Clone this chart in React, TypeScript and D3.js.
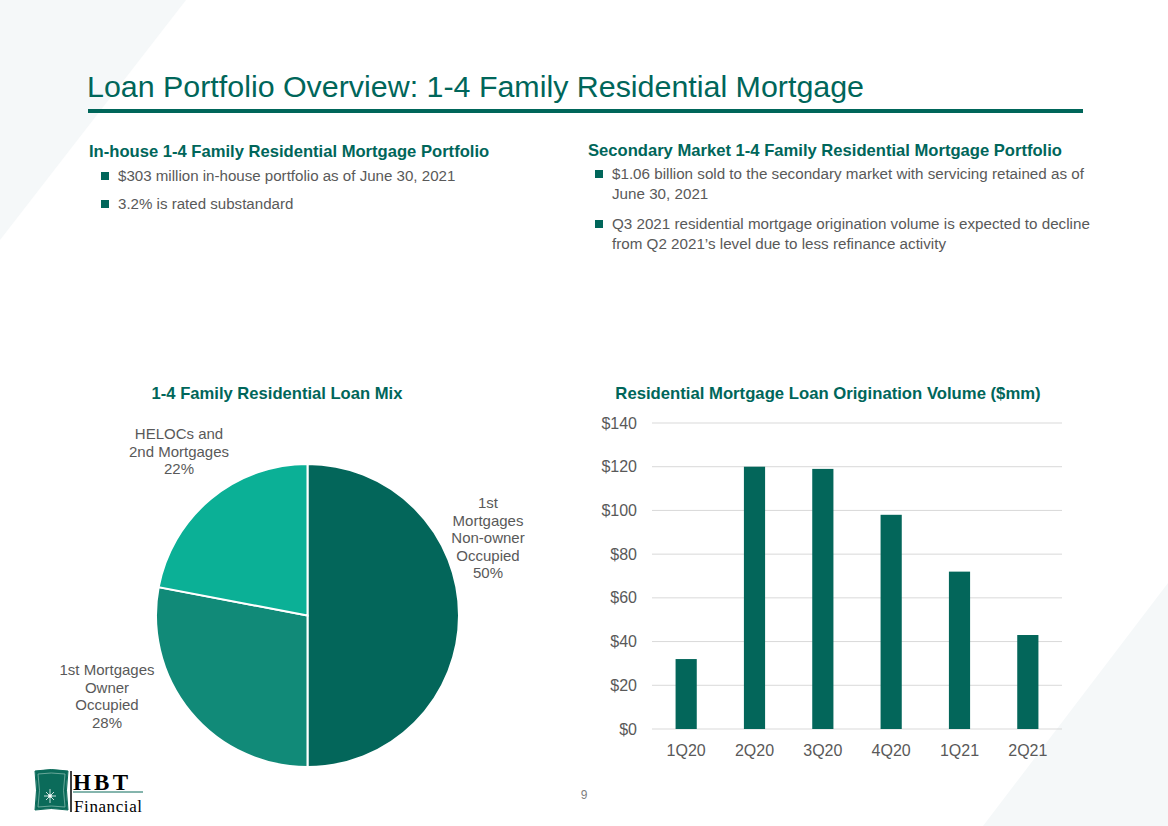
import React from "react";
import * as d3 from "d3";

const W = 1168;
const H = 826;

const GREEN = "#00665A";
const GRAY = "#595959";
const FONT = "'Liberation Sans', Arial, sans-serif";

// ---- Data ----
const pieLabels = [
  ["1st", "Mortgages", "Non-owner", "Occupied", "50%"],
  ["1st Mortgages", "Owner", "Occupied", "28%"],
  ["HELOCs and", "2nd Mortgages", "22%"],
];
const pieValues = [50, 28, 22];
const pieColors = ["#03665A", "#118A78", "#0BB096"];

const barCategories = ["1Q20", "2Q20", "3Q20", "4Q20", "1Q21", "2Q21"];
const barValues = [32, 120, 119, 98, 72, 43];
const yTicks = [0, 20, 40, 60, 80, 100, 120, 140];

const leftBullets = [
  ["$303 million in-house portfolio as of June 30, 2021"],
  ["3.2% is rated substandard"],
];
const rightBullets = [
  ["$1.06 billion sold to the secondary market with servicing retained as of", "June 30, 2021"],
  ["Q3 2021 residential mortgage origination volume is expected to decline", "from Q2 2021\u2019s level due to less refinance activity"],
];

function Bullets({ x, y, items, gap, lineH, fs }: { x: number; y: number; items: string[][]; gap: number; lineH: number; fs: number }) {
  let cy = y;
  const out: React.ReactNode[] = [];
  items.forEach((lines, i) => {
    out.push(<rect key={"b" + i} x={x} y={cy - 9} width={8} height={8} fill={GREEN} />);
    lines.forEach((l, j) => {
      out.push(
        <text key={"t" + i + "_" + j} x={x + 17} y={cy + j * lineH} fontSize={fs} fill={GRAY} fontFamily={FONT}>
          {l}
        </text>
      );
    });
    cy += (lines.length - 1) * lineH + gap;
  });
  return <g>{out}</g>;
}

export default function App() {
  // Pie
  const cx = 307.5, cy = 615.5, r = 151.5;
  const pie = d3.pie<number>().sort(null).value((d) => d)(pieValues);
  const arc = d3.arc<d3.PieArcDatum<number>>().innerRadius(0).outerRadius(r);
  const labelPos = [
    { x: 488, y: 508 },
    { x: 107, y: 675 },
    { x: 179, y: 439 },
  ];

  // Bars
  const x0 = 652, x1 = 1062, yTop = 423, yBot = 729;
  const xs = d3.scaleBand().domain(barCategories).range([x0, x1]).paddingInner(0.69).paddingOuter(0.345);
  const ys = d3.scaleLinear().domain([0, 140]).range([yBot, yTop]);

  return (
    <div style={{ position: "absolute", left: 0, top: 0, width: W, height: H }}>
      <svg width={W} height={H} style={{ display: "block" }}>
        <rect width={W} height={H} fill="#fff" />
        <polygon points="0,0 186,0 0,240" fill="#F5F8F9" />
        <polygon points="1168,583 1168,826 983,826" fill="#F5F8F9" />

        {/* Title */}
        <text x={87} y={97} fontSize={30.4} fill={GREEN} fontFamily={FONT}>
          Loan Portfolio Overview: 1-4 Family Residential Mortgage
        </text>
        <rect x={88} y={109} width={995} height={4} fill={GREEN} />

        {/* Left section */}
        <text x={89} y={157} fontSize={16.6} fontWeight="bold" fill={GREEN} fontFamily={FONT}>
          In-house 1-4 Family Residential Mortgage Portfolio
        </text>
        <Bullets x={101} y={181} items={leftBullets} gap={28} lineH={20} fs={15.1} />

        {/* Right section */}
        <text x={588} y={156} fontSize={16.6} fontWeight="bold" fill={GREEN} fontFamily={FONT}>
          Secondary Market 1-4 Family Residential Mortgage Portfolio
        </text>
        <Bullets x={595} y={179} items={rightBullets} gap={30} lineH={20} fs={15.2} />

        {/* Pie chart */}
        <text x={277} y={399} fontSize={16.6} fontWeight="bold" fill={GREEN} fontFamily={FONT} textAnchor="middle">
          1-4 Family Residential Loan Mix
        </text>
        <g transform={`translate(${cx},${cy})`}>
          {pie.map((p, i) => (
            <path key={i} d={arc(p) || ""} fill={pieColors[i]} stroke="#fff" strokeWidth={2} />
          ))}
        </g>
        {pieLabels.map((lines, i) => (
          <text key={i} fontSize={15} fill={GRAY} fontFamily={FONT} textAnchor="middle">
            {lines.map((l, j) => (
              <tspan key={j} x={labelPos[i].x} y={labelPos[i].y + j * 17.5}>
                {l}
              </tspan>
            ))}
          </text>
        ))}

        {/* Bar chart */}
        <text x={828} y={399} fontSize={16.7} fontWeight="bold" fill={GREEN} fontFamily={FONT} textAnchor="middle">
          Residential Mortgage Loan Origination Volume ($mm)
        </text>
        {yTicks.map((t) => (
          <g key={t}>
            <line x1={x0} x2={x1} y1={ys(t)} y2={ys(t)} stroke="#D9D9D9" strokeWidth={1} />
            <text x={637} y={ys(t) + 5.5} fontSize={16} fill={GRAY} fontFamily={FONT} textAnchor="end">
              ${t}
            </text>
          </g>
        ))}
        {barCategories.map((c, i) => (
          <g key={c}>
            <rect x={xs(c)} y={ys(barValues[i])} width={xs.bandwidth()} height={yBot - ys(barValues[i])} fill="#03665A" />
            <text x={(xs(c) || 0) + xs.bandwidth() / 2} y={756} fontSize={16} fill={GRAY} fontFamily={FONT} textAnchor="middle">
              {c}
            </text>
          </g>
        ))}

        {/* Page number */}
        <text x={584} y={799} fontSize={12} fill="#7F7F7F" fontFamily={FONT} textAnchor="middle">
          9
        </text>

        {/* Logo */}
        <g>
          <path d="M35,771 Q51,768 68,771 Q65,790 68,810 Q51,807 35,810 Q38,790 35,771 Z" fill="#0B6B5A" stroke="#0B6B5A" strokeWidth={1} />
          <path d="M38,774 Q51,772 65,774 Q62,790 65,807 Q51,805 38,807 Q41,790 38,774 Z" fill="none" stroke="#7FB5A8" strokeWidth={0.8} />
          <g stroke="#fff" strokeWidth={0.8}>
            <line x1={44} y1={796} x2={56} y2={796} />
            <line x1={50} y1={789} x2={50} y2={803} />
            <line x1={46} y1={792} x2={54} y2={800} />
            <line x1={46} y1={800} x2={54} y2={792} />
          </g>
          <circle cx={50} cy={796} r={1.8} fill="#fff" />
          <line x1={71} y1={771} x2={71} y2={812} stroke="#000" strokeWidth={1.5} />
          <text x={73} y={790} fontSize={23} fontWeight="bold" fill="#000" fontFamily="'Liberation Serif', 'DejaVu Serif', serif" textLength={55}>
            HBT
          </text>
          <line x1={73} y1={792} x2={143} y2={792} stroke="#0B6B5A" strokeWidth={1} />
          <text x={74} y={812} fontSize={17} fill="#000" fontFamily="'Liberation Serif', 'DejaVu Serif', serif" textLength={68}>
            Financial
          </text>
        </g>
      </svg>
    </div>
  );
}
